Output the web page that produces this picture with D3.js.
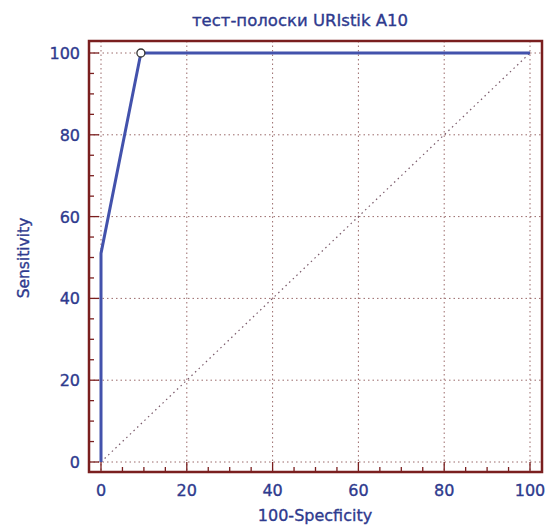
<!DOCTYPE html>
<html><head><meta charset="utf-8">
<script src="https://cdn.jsdelivr.net/npm/d3@7/dist/d3.min.js"></script>
<style>body{margin:0;background:#fff}svg{display:block}</style>
</head><body>
<script>
const title = "тест-полоски URIstik A10";
const xLabel = "100-Specficity";
const yLabel = "Sensitivity";
const fpr = [0, 0, 9.3, 100];          // 100 - Specificity
const tpr = [0, 51, 100, 100];          // Sensitivity
const markerFpr = [9.3];
const markerTpr = [100];
const majorTicks = [0, 20, 40, 60, 80, 100];
const minorTicks = d3.range(0, 101, 5);

const W = 552, H = 527;
const textColor = "#2e3a8e";
const frameColor = "#7a1f1f";
const gridColor = "#9a6a6a";

const svg = d3.select("body").append("svg").attr("width", W).attr("height", H);
const x = d3.scaleLinear().domain([0, 100]).range([101, 530]);
const y = d3.scaleLinear().domain([0, 100]).range([462, 53]);
const frame = {l: 89, t: 41, r: 542, b: 472};

// gridlines
const g = svg.append("g");
g.selectAll(".gx").data(majorTicks).join("line")
  .attr("x1", d => x(d)).attr("x2", d => x(d))
  .attr("y1", frame.t).attr("y2", frame.b)
  .attr("stroke", gridColor).attr("stroke-width", 1).attr("stroke-dasharray", "1.5,3");
g.selectAll(".gy").data(majorTicks).join("line")
  .attr("y1", d => y(d)).attr("y2", d => y(d))
  .attr("x1", frame.l).attr("x2", frame.r)
  .attr("stroke", gridColor).attr("stroke-width", 1).attr("stroke-dasharray", "1.5,3");

// diagonal
svg.append("line")
  .attr("x1", x(0)).attr("y1", y(0)).attr("x2", x(100)).attr("y2", y(100))
  .attr("stroke", "#7a5a6a").attr("stroke-width", 1.2).attr("stroke-dasharray", "1.5,3.5");

// ROC line
const line = d3.line().x((d, i) => x(fpr[i])).y((d, i) => y(tpr[i]));
svg.append("path").datum(fpr).attr("d", line)
  .attr("fill", "none").attr("stroke", "#4352ac").attr("stroke-width", 3).attr("stroke-linejoin", "round");

svg.selectAll(".mk").data(markerFpr).join("circle")
  .attr("cx", d => x(d)).attr("cy", (d, i) => y(markerTpr[i])).attr("r", 4)
  .attr("fill", "#fff").attr("stroke", "#333").attr("stroke-width", 1.3);

// frame
svg.append("rect").attr("x", frame.l).attr("y", frame.t)
  .attr("width", frame.r - frame.l).attr("height", frame.b - frame.t)
  .attr("fill", "none").attr("stroke", frameColor).attr("stroke-width", 2.5);

// ticks bottom
svg.selectAll(".tb").data(minorTicks).join("line")
  .attr("x1", d => x(d)).attr("x2", d => x(d))
  .attr("y1", frame.b).attr("y2", d => majorTicks.includes(d) ? frame.b - 10 : frame.b - 5)
  .attr("stroke", frameColor).attr("stroke-width", 1.3);
// ticks left
svg.selectAll(".tl").data(minorTicks).join("line")
  .attr("y1", d => y(d)).attr("y2", d => y(d))
  .attr("x1", frame.l).attr("x2", d => majorTicks.includes(d) ? frame.l + 10 : frame.l + 5)
  .attr("stroke", frameColor).attr("stroke-width", 1.3);

const font = "DejaVu Sans, Verdana, sans-serif";
function txt(sel) {
  return sel.attr("font-family", font).attr("fill", textColor)
    .attr("stroke", textColor).attr("stroke-width", 0.35);
}
txt(svg.selectAll(".xl").data(majorTicks).join("text"))
  .attr("x", d => x(d)).attr("y", 496).attr("text-anchor", "middle")
  .attr("font-size", 16).text(d => d);
txt(svg.selectAll(".yl").data(majorTicks).join("text"))
  .attr("x", 80).attr("y", d => y(d) + 6).attr("text-anchor", "end")
  .attr("font-size", 16).text(d => d);

txt(svg.append("text")).attr("x", 300).attr("y", 26).attr("text-anchor", "middle")
  .attr("font-size", 16.5).text(title);
txt(svg.append("text")).attr("x", 315).attr("y", 521).attr("text-anchor", "middle")
  .attr("font-size", 16).text(xLabel);
txt(svg.append("text")).attr("transform", "translate(29,258) rotate(-90)").attr("text-anchor", "middle")
  .attr("font-size", 15.5).text(yLabel);
</script>
</body></html>
